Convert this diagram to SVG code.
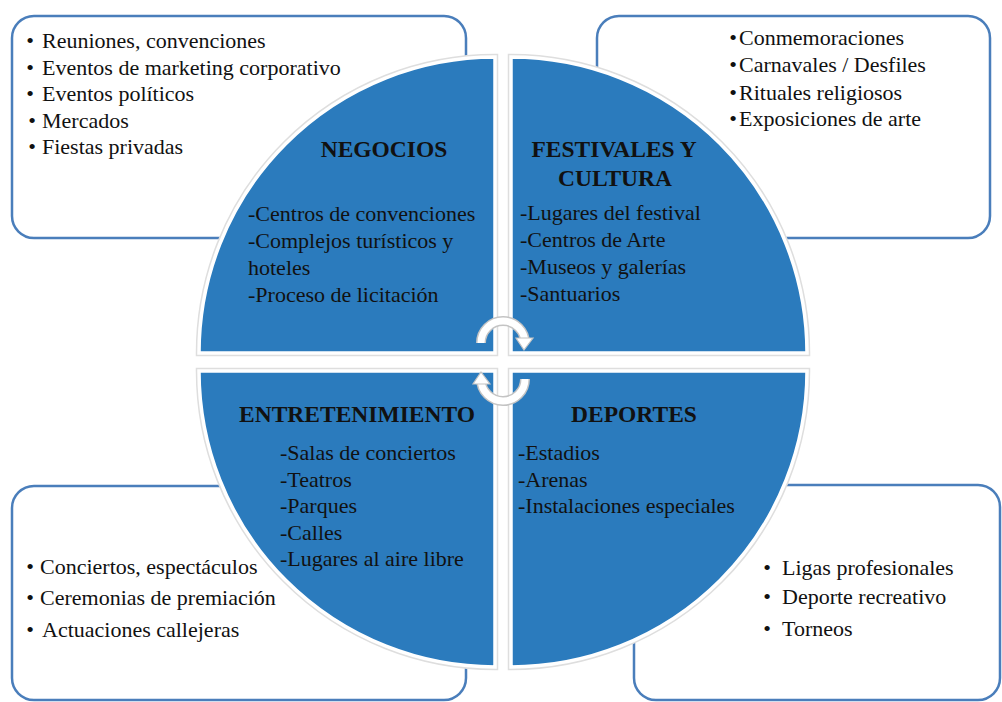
<svg xmlns="http://www.w3.org/2000/svg" width="1002" height="702" viewBox="0 0 1002 702">
<style>
.box{fill:#fff;stroke:#4a7ebb;stroke-width:2.5}
.halo{fill:none;stroke:#dedede;stroke-width:6.5}
.quad{fill:#2b7bbd;stroke:#fff;stroke-width:3.5}
.t{font-family:"Liberation Serif","Times New Roman",serif;font-size:22px;fill:#111}
.h{font-family:"Liberation Serif","Times New Roman",serif;font-size:23.5px;font-weight:bold;fill:#111;text-anchor:middle}
.b{text-anchor:middle}
.arcO{fill:none;stroke:#c4c4c4;stroke-width:10}
.arcI{fill:none;stroke:#fff;stroke-width:7}
.ah{fill:#fff;stroke:#c4c4c4;stroke-width:1.2}
</style>
<rect width="1002" height="702" fill="#fff"/>

<g id="box-negocios">
<rect class="box" x="12" y="16" width="454" height="222" rx="22"/>
<text class="t b" x="30" y="48">•</text><text class="t" x="42" y="48">Reuniones, convenciones</text>
<text class="t b" x="30" y="75">•</text><text class="t" x="42" y="75">Eventos de marketing corporativo</text>
<text class="t b" x="30" y="101">•</text><text class="t" x="42" y="101">Eventos políticos</text>
<text class="t b" x="32" y="128">•</text><text class="t" x="42" y="128">Mercados</text>
<text class="t b" x="32" y="154">•</text><text class="t" x="42" y="154">Fiestas privadas</text>
</g>

<g id="box-festivales">
<rect class="box" x="597" y="16" width="393" height="222" rx="22"/>
<text class="t b" x="733" y="45">•</text><text class="t" x="739" y="45">Conmemoraciones</text>
<text class="t b" x="733" y="72">•</text><text class="t" x="739" y="72">Carnavales / Desfiles</text>
<text class="t b" x="733" y="100">•</text><text class="t" x="739" y="100">Rituales religiosos</text>
<text class="t b" x="733" y="126">•</text><text class="t" x="739" y="126">Exposiciones de arte</text>
</g>

<g id="box-entretenimiento">
<rect class="box" x="12" y="486" width="454" height="214" rx="22"/>
<text class="t b" x="30" y="574">•</text><text class="t" x="40" y="574">Conciertos, espectáculos</text>
<text class="t b" x="30" y="605">•</text><text class="t" x="40" y="605">Ceremonias de premiación</text>
<text class="t b" x="30" y="637">•</text><text class="t" x="42" y="637">Actuaciones callejeras</text>
</g>

<g id="box-deportes">
<rect class="box" x="634" y="485" width="366" height="215" rx="22"/>
<text class="t b" x="767" y="575">•</text><text class="t" x="782" y="575">Ligas profesionales</text>
<text class="t b" x="767" y="604">•</text><text class="t" x="782" y="604">Deporte recreativo</text>
<text class="t b" x="767" y="636">•</text><text class="t" x="782" y="636">Torneos</text>
</g>

<g id="quad-negocios">
<path class="halo" d="M495,353 L199,353 A296,296 0 0 1 495,57 Z"/>
<path class="quad" d="M495,353 L199,353 A296,296 0 0 1 495,57 Z"/>
<text class="h" x="384" y="157">NEGOCIOS</text>
<text class="t" x="248" y="221">-Centros de convenciones</text>
<text class="t" x="248" y="248">-Complejos turísticos y</text>
<text class="t" x="248" y="275">hoteles</text>
<text class="t" x="248" y="302">-Proceso de licitación</text>
</g>

<g id="quad-festivales">
<path class="halo" d="M511,353 L511,57 A296,296 0 0 1 807,353 Z"/>
<path class="quad" d="M511,353 L511,57 A296,296 0 0 1 807,353 Z"/>
<text class="h" x="614" y="157">FESTIVALES Y</text>
<text class="h" x="615" y="186">CULTURA</text>
<text class="t" x="520" y="220">-Lugares del festival</text>
<text class="t" x="520" y="247">-Centros de Arte</text>
<text class="t" x="520" y="274">-Museos y galerías</text>
<text class="t" x="520" y="301">-Santuarios</text>
</g>

<g id="quad-entretenimiento">
<path class="halo" d="M495,371 L495,667 A296,296 0 0 1 199,371 Z"/>
<path class="quad" d="M495,371 L495,667 A296,296 0 0 1 199,371 Z"/>
<text class="h" x="357" y="422">ENTRETENIMIENTO</text>
<text class="t" x="280" y="460">-Salas de conciertos</text>
<text class="t" x="280" y="487">-Teatros</text>
<text class="t" x="280" y="513">-Parques</text>
<text class="t" x="280" y="540">-Calles</text>
<text class="t" x="280" y="566">-Lugares al aire libre</text>
</g>

<g id="quad-deportes">
<path class="halo" d="M511,371 L807,371 A296,296 0 0 1 511,667 Z"/>
<path class="quad" d="M511,371 L807,371 A296,296 0 0 1 511,667 Z"/>
<text class="h" x="634" y="422">DEPORTES</text>
<text class="t" x="518" y="460">-Estadios</text>
<text class="t" x="518" y="487">-Arenas</text>
<text class="t" x="518" y="513">-Instalaciones especiales</text>
</g>

<g id="connectors">
<path class="arcO" d="M481,343 A22,22 0 0 1 525,343"/>
<path class="arcI" d="M481,343 A22,22 0 0 1 525,343"/>
<polygon class="ah" points="516,338 533,338 524,350"/>
<path class="arcO" d="M525,379 A22,22 0 0 1 481,379"/>
<path class="arcI" d="M525,379 A22,22 0 0 1 481,379"/>
<polygon class="ah" points="473,384 490,384 481,372"/>
</g>
</svg>
